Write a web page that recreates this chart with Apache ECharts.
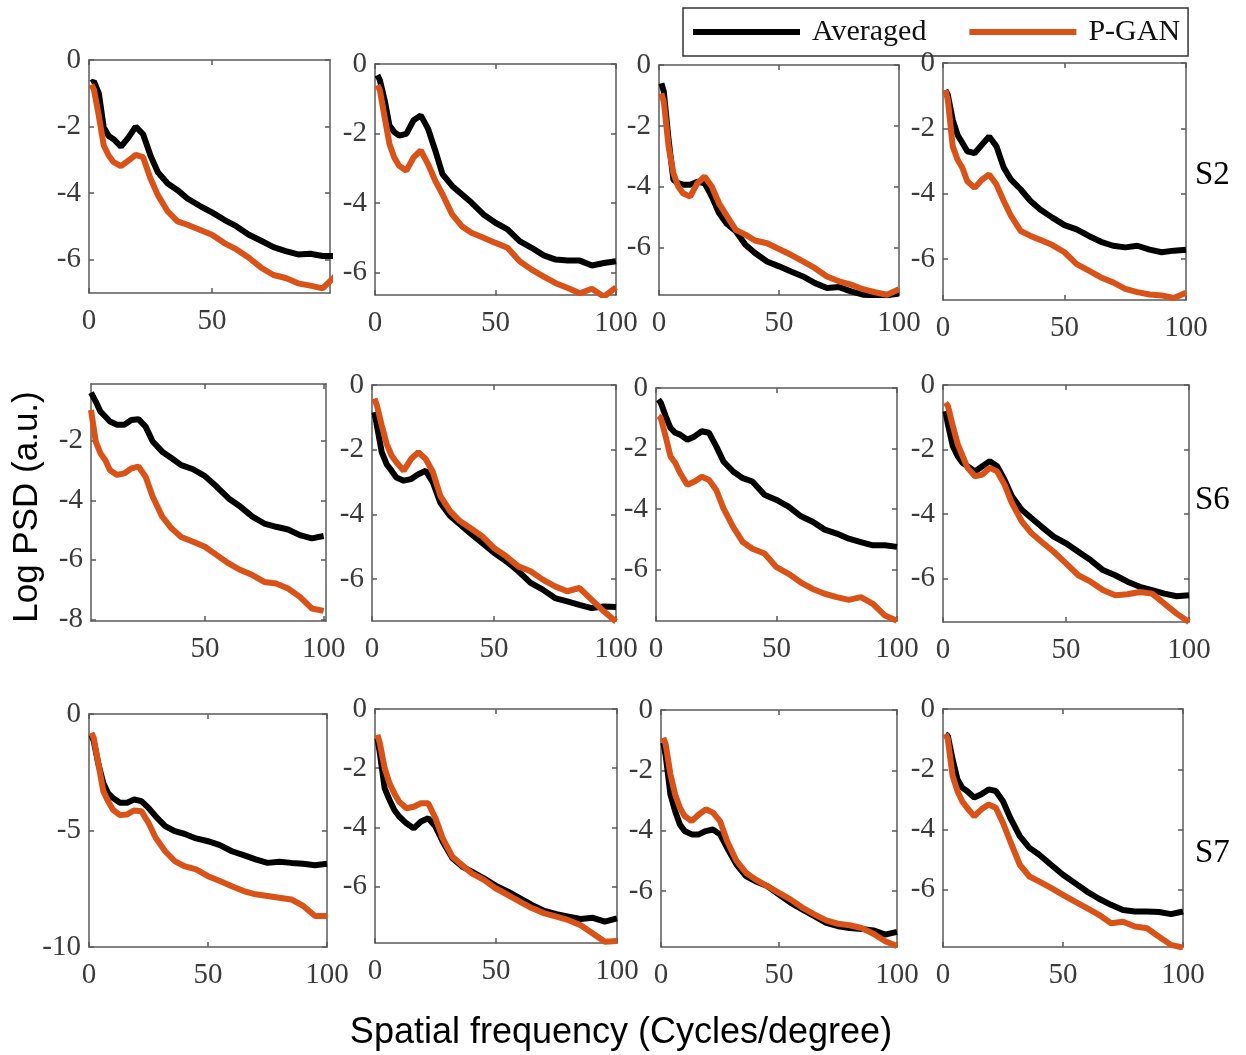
<!DOCTYPE html>
<html>
<head>
<meta charset="utf-8">
<title>Log PSD</title>
<script src="https://cdn.jsdelivr.net/npm/echarts@6/dist/echarts.min.js"></script>
<style>
  * { margin: 0 }
  body { background: #fff }
</style>
</head>
<body>
<div id="main" style="width:1246px;height:1055px;"></div>
<script>
// spatial frequency samples (cycles/degree)
var freq = [1, 2, 4, 6, 8, 10, 13, 16, 19, 22, 25, 28, 32, 36, 40, 45, 50, 55, 60, 65, 70, 75, 80, 85, 90, 95, 100];

// row S2
var avgS2a = [-0.69,-0.64,-1.0,-2.03,-2.28,-2.38,-2.6,-2.33,-2.0,-2.23,-2.87,-3.37,-3.71,-3.91,-4.16,-4.38,-4.58,-4.8,-5.0,-5.25,-5.43,-5.62,-5.74,-5.84,-5.82,-5.89,-5.89];
var ganS2a = [-0.74,-0.89,-1.68,-2.57,-2.87,-3.07,-3.19,-3.02,-2.85,-2.92,-3.56,-4.06,-4.55,-4.85,-4.95,-5.1,-5.25,-5.5,-5.69,-5.94,-6.24,-6.46,-6.55,-6.71,-6.78,-6.86,-6.5];
var avgS2b = [-0.32,-0.46,-1.04,-1.77,-1.96,-2.06,-2.01,-1.62,-1.48,-1.86,-2.49,-3.17,-3.51,-3.75,-3.99,-4.33,-4.57,-4.76,-5.1,-5.29,-5.51,-5.63,-5.66,-5.66,-5.8,-5.73,-5.68];
var ganS2b = [-0.61,-0.75,-1.53,-2.3,-2.69,-2.93,-3.07,-2.69,-2.49,-2.88,-3.36,-3.75,-4.33,-4.67,-4.86,-5.0,-5.15,-5.29,-5.68,-5.92,-6.12,-6.31,-6.45,-6.6,-6.47,-6.7,-6.43];
var avgS2c = [-0.6,-0.87,-2.46,-3.77,-3.88,-3.93,-3.93,-3.83,-3.88,-4.32,-4.86,-5.19,-5.46,-5.9,-6.17,-6.45,-6.61,-6.78,-6.94,-7.16,-7.32,-7.29,-7.43,-7.54,-7.56,-7.56,-7.5];
var ganS2c = [-0.93,-1.2,-2.68,-3.55,-3.99,-4.21,-4.32,-3.88,-3.66,-3.99,-4.54,-4.92,-5.41,-5.57,-5.76,-5.85,-6.04,-6.23,-6.45,-6.67,-6.94,-7.1,-7.21,-7.36,-7.46,-7.54,-7.36];
var avgS2d = [-0.83,-0.98,-1.74,-2.2,-2.45,-2.7,-2.76,-2.5,-2.25,-2.55,-3.2,-3.57,-3.87,-4.22,-4.48,-4.73,-4.96,-5.09,-5.29,-5.47,-5.59,-5.64,-5.59,-5.71,-5.79,-5.74,-5.71];
var ganS2d = [-0.83,-1.13,-2.55,-2.96,-3.21,-3.62,-3.82,-3.57,-3.41,-3.72,-4.22,-4.68,-5.14,-5.29,-5.41,-5.57,-5.79,-6.15,-6.35,-6.56,-6.71,-6.91,-7.01,-7.08,-7.11,-7.19,-7.03];

// row S6
var avgS6a = [null,-0.39,-0.69,-1.03,-1.19,-1.36,-1.47,-1.47,-1.31,-1.28,-1.53,-2.03,-2.37,-2.59,-2.82,-2.96,-3.19,-3.55,-3.94,-4.22,-4.55,-4.78,-4.89,-4.98,-5.17,-5.28,-5.2];
var ganS6a = [null,-0.97,-2.03,-2.43,-2.65,-2.99,-3.15,-3.1,-2.93,-2.87,-3.21,-3.88,-4.55,-4.95,-5.23,-5.39,-5.56,-5.84,-6.12,-6.34,-6.51,-6.74,-6.79,-6.96,-7.24,-7.63,-7.71];
var avgS6b = [-0.84,-1.25,-2.08,-2.45,-2.65,-2.86,-2.96,-2.91,-2.76,-2.65,-3.02,-3.64,-4.05,-4.31,-4.57,-4.88,-5.19,-5.45,-5.76,-6.12,-6.33,-6.59,-6.69,-6.8,-6.9,-6.85,-6.87];
var ganS6b = [-0.42,-0.63,-1.25,-1.82,-2.18,-2.39,-2.65,-2.29,-2.08,-2.29,-2.7,-3.43,-3.9,-4.21,-4.41,-4.67,-5.04,-5.3,-5.61,-5.76,-6.02,-6.23,-6.38,-6.28,-6.64,-7.0,-7.32];
var avgS6c = [-0.38,-0.49,-0.93,-1.32,-1.48,-1.54,-1.71,-1.6,-1.43,-1.48,-1.93,-2.43,-2.76,-2.98,-3.09,-3.53,-3.7,-3.92,-4.23,-4.42,-4.68,-4.81,-4.98,-5.09,-5.2,-5.2,-5.25];
var ganS6c = [-0.93,-0.99,-1.6,-2.26,-2.48,-2.81,-3.2,-3.09,-2.93,-3.04,-3.37,-3.98,-4.59,-5.09,-5.31,-5.47,-5.92,-6.14,-6.42,-6.64,-6.8,-6.91,-7.0,-6.91,-7.13,-7.52,-7.69];
var avgS6d = [-0.81,-1.22,-1.9,-2.21,-2.42,-2.52,-2.68,-2.52,-2.36,-2.52,-2.94,-3.45,-3.87,-4.13,-4.39,-4.7,-4.91,-5.17,-5.43,-5.74,-5.9,-6.1,-6.26,-6.36,-6.47,-6.55,-6.52];
var ganS6d = [-0.55,-0.65,-1.27,-1.84,-2.21,-2.57,-2.83,-2.78,-2.57,-2.68,-3.09,-3.66,-4.23,-4.6,-4.86,-5.17,-5.53,-5.9,-6.1,-6.36,-6.52,-6.49,-6.42,-6.47,-6.78,-7.09,-7.35];

// row S7
var avgS7a = [-0.89,-1.17,-2.17,-2.96,-3.39,-3.6,-3.81,-3.81,-3.67,-3.74,-4.03,-4.39,-4.81,-5.03,-5.14,-5.34,-5.46,-5.63,-5.89,-6.06,-6.24,-6.39,-6.34,-6.39,-6.43,-6.49,-6.43];
var ganS7a = [-0.81,-1.03,-2.17,-3.31,-3.74,-4.1,-4.34,-4.31,-4.14,-4.17,-4.67,-5.31,-5.89,-6.31,-6.53,-6.67,-6.96,-7.17,-7.39,-7.6,-7.74,-7.81,-7.89,-7.96,-8.24,-8.67,-8.67];
var avgS7b = [-0.99,-1.49,-2.68,-3.07,-3.41,-3.63,-3.86,-4.03,-3.8,-3.69,-3.97,-4.48,-5.04,-5.32,-5.49,-5.72,-5.97,-6.17,-6.39,-6.62,-6.82,-6.93,-7.01,-7.09,-7.05,-7.18,-7.07];
var ganS7b = [-0.87,-1.15,-2.0,-2.51,-2.85,-3.13,-3.35,-3.3,-3.18,-3.18,-3.69,-4.37,-4.99,-5.27,-5.55,-5.77,-6.06,-6.28,-6.51,-6.73,-6.9,-7.01,-7.13,-7.3,-7.58,-7.86,-7.83];
var avgS7c = [-1.08,-1.52,-2.8,-3.35,-3.79,-4.01,-4.12,-4.12,-4.01,-3.96,-4.12,-4.56,-5.12,-5.5,-5.67,-5.83,-6.11,-6.39,-6.61,-6.83,-7.05,-7.16,-7.22,-7.25,-7.3,-7.44,-7.35];
var ganS7c = [-0.92,-1.14,-2.13,-2.8,-3.24,-3.51,-3.68,-3.46,-3.29,-3.4,-3.68,-4.34,-5.0,-5.39,-5.61,-5.83,-6.06,-6.28,-6.55,-6.77,-6.97,-7.08,-7.13,-7.22,-7.41,-7.66,-7.82];
var avgS7d = [-0.83,-0.89,-1.67,-2.33,-2.61,-2.72,-2.94,-2.83,-2.67,-2.72,-3.06,-3.61,-4.22,-4.61,-4.83,-5.17,-5.5,-5.78,-6.06,-6.3,-6.5,-6.67,-6.72,-6.72,-6.74,-6.81,-6.72];
var ganS7d = [-0.83,-1.0,-2.22,-2.72,-3.06,-3.28,-3.56,-3.33,-3.17,-3.28,-3.78,-4.39,-5.17,-5.56,-5.72,-5.94,-6.17,-6.39,-6.61,-6.83,-7.11,-7.06,-7.22,-7.28,-7.56,-7.83,-7.92];

var avgSets = [avgS2a, avgS2b, avgS2c, avgS2d, avgS6a, avgS6b, avgS6c, avgS6d, avgS7a, avgS7b, avgS7c, avgS7d];
var ganSets = [ganS2a, ganS2b, ganS2c, ganS2d, ganS6a, ganS6b, ganS6c, ganS6d, ganS7a, ganS7b, ganS7c, ganS7d];

// tick labels per panel
var xTicks = [[0,50],[0,50,100],[0,50,100],[0,50,100],
              [50,100],[0,50,100],[0,50,100],[0,50,100],
              [0,50,100],[0,50,100],[0,50,100],[0,50,100]];
var yTicks = [[0,-2,-4,-6],[0,-2,-4,-6],[0,-2,-4,-6],[0,-2,-4,-6],
              [-2,-4,-6,-8],[0,-2,-4,-6],[0,-2,-4,-6],[0,-2,-4,-6],
              [0,-5,-10],[0,-2,-4,-6],[0,-2,-4,-6],[0,-2,-4,-6]];
var rowNames = ['S2', 'S6', 'S7'];

// panel boxes and axis extents
var panels = [
  {left: 89,  top: 60,  w: 241, h: 233, x0: 0, x1: 98,  y0: -7,    y1: 0},
  {left: 375, top: 64,  w: 241, h: 231, x0: 0, x1: 100, y0: -6.65, y1: 0},
  {left: 659, top: 65,  w: 240, h: 230, x0: 0, x1: 100, y0: -7.55, y1: 0},
  {left: 943, top: 63,  w: 243, h: 237, x0: 0, x1: 100, y0: -7.25, y1: 0},
  {left: 91,  top: 384, w: 235, h: 237, x0: 2, x1: 101, y0: -8.05, y1: -0.1},
  {left: 372, top: 385, w: 244, h: 236, x0: 0, x1: 100, y0: -7.3,  y1: 0},
  {left: 656, top: 388, w: 241, h: 233, x0: 0, x1: 100, y0: -7.7,  y1: 0},
  {left: 943, top: 385, w: 246, h: 237, x0: 0, x1: 100, y0: -7.35, y1: 0},
  {left: 89,  top: 714, w: 238, h: 233, x0: 0, x1: 100, y0: -10,   y1: 0},
  {left: 375, top: 709, w: 242, h: 234, x0: 0, x1: 100, y0: -7.9,  y1: 0},
  {left: 661, top: 710, w: 236, h: 237, x0: 0, x1: 100, y0: -7.85, y1: 0},
  {left: 943, top: 709, w: 240, h: 238, x0: 0, x1: 100, y0: -7.9,  y1: 0}
];

var serif = '"Liberation Serif", "Times New Roman", serif';
var sans = '"Liberation Sans", Arial, sans-serif';
var axisColor = '#5a5a5a';
var labelColor = '#3a3a3a';

function pairs(vals) {
  var out = [];
  for (var k = 0; k < freq.length; k++) {
    if (vals[k] != null) out.push([freq[k], vals[k]]);
  }
  return out;
}

var grids = [], xAxes = [], yAxes = [], series = [];
panels.forEach(function (p, i) {
  grids.push({left: p.left, top: p.top, width: p.w, height: p.h});
  ['bottom', 'top'].forEach(function (pos) {
    xAxes.push({
      type: 'value', gridIndex: i, position: pos, min: p.x0, max: p.x1,
      axisLine: {onZero: false, lineStyle: {color: axisColor, width: 1.5}},
      axisTick: {inside: true, length: 5, customValues: xTicks[i], lineStyle: {color: axisColor, width: 1.5}},
      axisLabel: {show: pos === 'bottom', customValues: xTicks[i], margin: 14,
                  color: labelColor, fontFamily: serif, fontSize: 29},
      splitLine: {show: false}
    });
  });
  ['left', 'right'].forEach(function (pos) {
    yAxes.push({
      type: 'value', gridIndex: i, position: pos, min: p.y0, max: p.y1,
      axisLine: {onZero: false, lineStyle: {color: axisColor, width: 1.5}},
      axisTick: {inside: true, length: 5, customValues: yTicks[i], lineStyle: {color: axisColor, width: 1.5}},
      axisLabel: {show: pos === 'left', customValues: yTicks[i], margin: 8,
                  color: labelColor, fontFamily: serif, fontSize: 29},
      splitLine: {show: false}
    });
  });
  series.push({
    type: 'line', name: 'Averaged', xAxisIndex: 2 * i, yAxisIndex: 2 * i,
    data: pairs(avgSets[i]), showSymbol: false, color: '#000',
    lineStyle: {color: '#000', width: 6}
  });
  series.push({
    type: 'line', name: 'P-GAN', xAxisIndex: 2 * i, yAxisIndex: 2 * i,
    data: pairs(ganSets[i]), showSymbol: false, color: '#D95319',
    lineStyle: {color: '#D95319', width: 6}
  });
});

var graphics = [
  {type: 'text', x: 27, y: 507, rotation: Math.PI / 2,
   style: {text: 'Log PSD (a.u.)', fill: '#000', fontFamily: sans,
           fontSize: 35, align: 'center', verticalAlign: 'middle'}},
  {type: 'text', x: 621, y: 1033,
   style: {text: 'Spatial frequency (Cycles/degree)', fill: '#000', fontFamily: sans,
           fontSize: 36, align: 'center', verticalAlign: 'middle'}}
];
[175, 500, 853].forEach(function (yy, r) {
  graphics.push({type: 'text', x: 1195, y: yy,
    style: {text: rowNames[r], fill: '#000', fontFamily: serif, fontSize: 33, align: 'left', verticalAlign: 'middle'}});
});

var myChart = echarts.init(document.getElementById('main'));
myChart.setOption({
  animation: false,
  backgroundColor: '#fff',
  legend: {
    data: ['Averaged', 'P-GAN'],
    left: 683, top: 8,
    padding: [9, 8, 9, 10],
    itemWidth: 107, itemHeight: 6, itemGap: 43,
    icon: 'rect',
    borderColor: '#333', borderWidth: 1.5,
    textStyle: {fontFamily: serif, fontSize: 30, color: '#111', padding: [0, 0, 0, 7]}
  },
  grid: grids,
  xAxis: xAxes,
  yAxis: yAxes,
  series: series,
  graphic: graphics
});
</script>
</body>
</html>
